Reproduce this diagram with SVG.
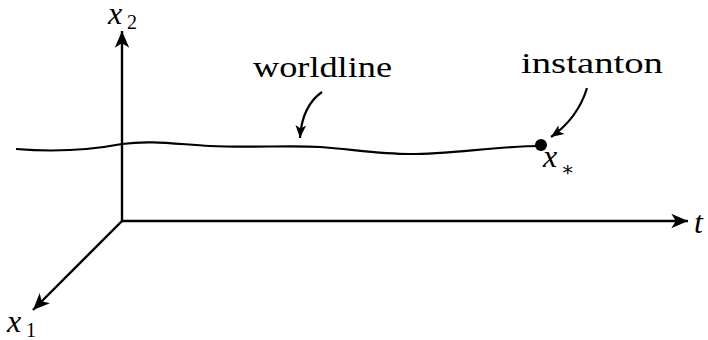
<svg xmlns="http://www.w3.org/2000/svg" width="708" height="340" viewBox="0 0 708 340">
<style>
.ax{fill:none;stroke:#000;stroke-width:2.4}
.wl{fill:none;stroke:#000;stroke-width:2.2}
.lbl{font-family:"Liberation Serif","DejaVu Serif",serif;font-size:29px;fill:#000}
.m{font-family:"Liberation Serif","DejaVu Serif",serif;font-style:italic;font-size:32px;fill:#000}
.sub{font-family:"Liberation Serif","DejaVu Serif",serif;font-size:20px;fill:#000}
</style>
<defs>
<marker id="ah" markerUnits="userSpaceOnUse" markerWidth="20" markerHeight="20" viewBox="-16 -8 18 16" refX="0" refY="0" orient="auto">
<path d="M0,0 L-15,-6.5 L-11,0 L-15,6.5 Z" fill="#000"/>
</marker>
<marker id="ahs" markerUnits="userSpaceOnUse" markerWidth="16" markerHeight="16" viewBox="-13 -7 15 14" refX="0" refY="0" orient="auto">
<path d="M0,0 L-12,-5 L-9,0 L-12,5 Z" fill="#000"/>
</marker>
</defs>
<g id="connectors">
<line class="ax" x1="122" y1="221" x2="122" y2="31" marker-end="url(#ah)"/>
<line class="ax" x1="121" y1="221" x2="688" y2="221" marker-end="url(#ah)"/>
<line class="ax" x1="122" y1="221" x2="33" y2="310" marker-end="url(#ah)"/>
<path class="wl" d="M322,92 Q302,106 300,138" marker-end="url(#ahs)"/>
<path class="wl" d="M587,88 Q578,118 551,137" marker-end="url(#ahs)"/>
</g>
<g id="worldline">
<path class="wl" d="M16,149 C40,151 80,152 122,144 C150,140 175,144 210,146 C250,148 290,145 320,147 C350,149 380,154 410,154 C450,154 500,146 541,146"/>
</g>
<g id="instanton">
<circle cx="541" cy="145" r="6" fill="#000"/>
</g>
<g id="labels">
<text class="lbl" x="253" y="77" textLength="139" lengthAdjust="spacingAndGlyphs">worldline</text>
<text class="lbl" x="521" y="73" textLength="142" lengthAdjust="spacingAndGlyphs">instanton</text>
<text class="m" x="108" y="24">x</text><text class="sub" x="127" y="29">2</text>
<text class="m" x="7" y="332">x</text><text class="sub" x="26" y="337">1</text>
<text class="m" x="543" y="167">x</text><text class="sub" x="561" y="176">∗</text>
<text class="m" x="694" y="233">t</text>
</g>
</svg>
